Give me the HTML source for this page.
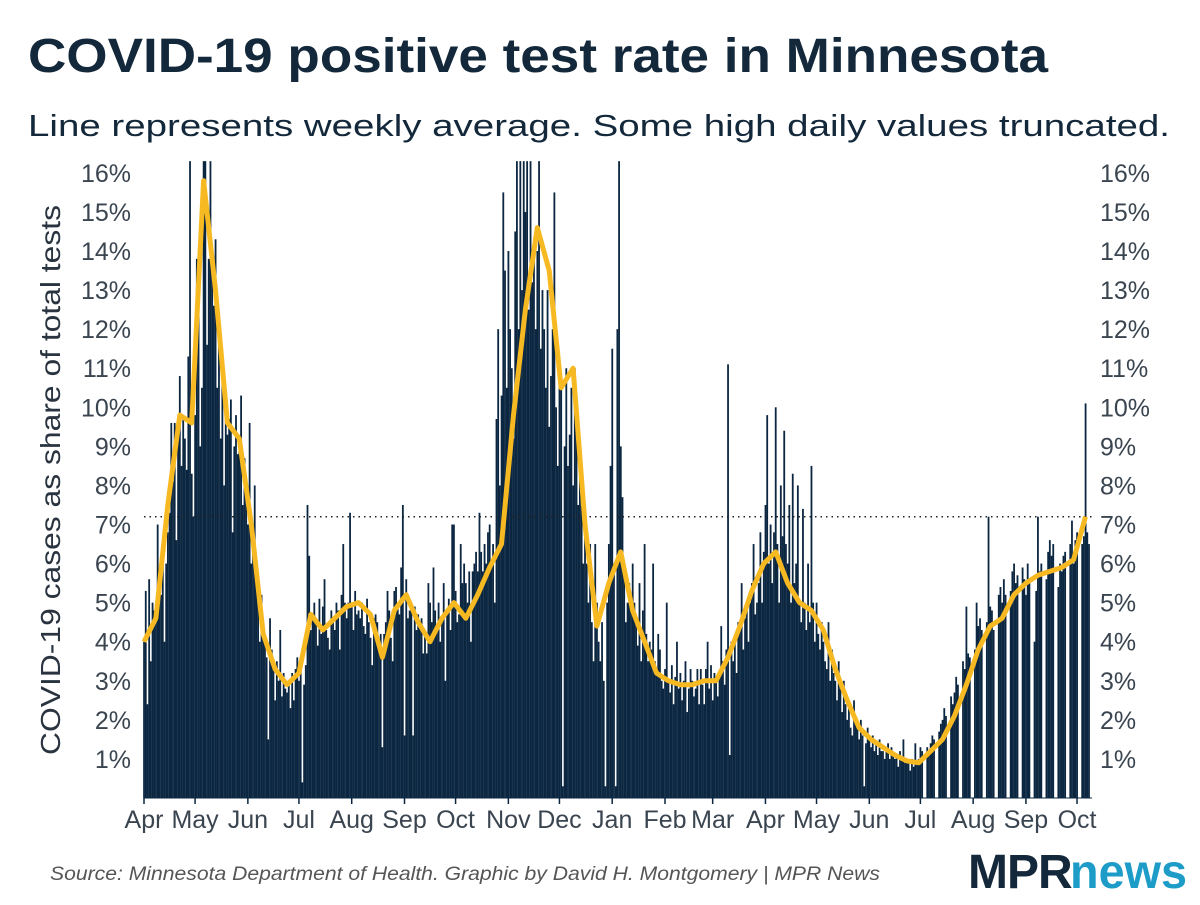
<!DOCTYPE html>
<html><head><meta charset="utf-8"><style>
body{margin:0;background:#fff;width:1200px;height:900px;overflow:hidden;font-family:"Liberation Sans",sans-serif}
</style></head><body>
<svg id="c" width="1200" height="900" xmlns="http://www.w3.org/2000/svg">
<text x="28" y="72" font-size="48" font-weight="bold" fill="#13283a" textLength="1020" lengthAdjust="spacingAndGlyphs">COVID-19 positive test rate in Minnesota</text>
<text x="28" y="136" font-size="31" fill="#13283a" textLength="1142" lengthAdjust="spacingAndGlyphs">Line represents weekly average. Some high daily values truncated.</text>
<text transform="translate(60,480) rotate(-90)" text-anchor="middle" font-size="28" fill="#2a3440" textLength="550" lengthAdjust="spacingAndGlyphs">COVID-19 cases as share of total tests</text>
<g id="bars"></g>
<g id="grid"></g>
<path id="line" fill="none" stroke="#f7b922" stroke-width="5" stroke-linejoin="round"/>
<text x="50" y="880" font-size="19" font-style="italic" fill="#555" textLength="830" lengthAdjust="spacingAndGlyphs">Source: Minnesota Department of Health. Graphic by David H. Montgomery | MPR News</text>
<g>
<text x="968" y="888" font-size="48" font-weight="bold" fill="#13283a" letter-spacing="-1">MPR</text>
<text x="1070" y="888" font-size="48" font-weight="bold" fill="#1e9cc8" textLength="117" lengthAdjust="spacingAndGlyphs">news</text>
</g>
</svg>
<script>
const monthLabels=["Apr","May","Jun","Jul","Aug","Sep","Oct","Nov","Dec","Jan","Feb","Mar","Apr","May","Jun","Jul","Aug","Sep","Oct"];
const monthStartDays=[0,30,61,91,122,153,183,214,244,275,306,334,365,395,426,456,487,518,548];
const yTicks=[1,2,3,4,5,6,7,8,9,10,11,12,13,14,15,16];
const refValue=7.2;
const daily=[
4.0,5.3,2.4,5.6,3.5,5.0,4.8, 4.7,7.0,5.5,5.2,6.2,4.0,6.0, 6.8,7.3,9.6,8.1,9.6,6.6,9.7, 10.8,8.5,9.8,9.2,8.4,11.3,16.3,
8.3,7.2,9.8,13.8,13.9,9.0,10.5, 16.3,16.3,11.6,13.8,16.3,14.0,12.6, 14.3,10.5,12.0,9.2,11.2,8.0,10.0, 9.3,9.7,10.2,6.8,9.0,9.8,8.8,
9.2,10.3,7.5,8.7,8.0,7.0,9.6, 6.0,7.0,8.0,5.8,5.0,4.0,5.2, 4.5,4.0,3.6,1.5,4.6,3.8,3.3, 2.5,3.5,3.0,4.3,2.6,3.2,2.8,
2.7,3.0,2.3,3.2,2.5,3.3,3.6, 3.0,3.4,0.4,2.9,3.4,7.5,6.2, 4.3,4.7,5.0,4.6,3.9,5.1,4.2, 4.9,5.6,4.3,4.1,3.8,4.8,4.5,
4.3,5.0,4.8,3.8,5.2,6.5,5.0, 4.6,5.0,7.3,4.9,4.3,5.3,4.7, 4.8,4.6,5.0,4.4,4.2,5.1,4.5, 4.1,3.4,4.6,4.7,4.5,4.0,4.2,
1.3,4.2,4.5,5.3,4.8,4.1,3.5, 5.3,5.4,5.0,4.7,5.9,7.5,1.6, 5.6,4.6,4.8,5.0,1.6,4.9,4.3, 4.7,4.5,4.6,3.7,4.2,3.7,5.5,
5.0,4.5,5.9,4.8,4.3,5.0,4.0, 4.6,5.5,3.0,4.8,5.1,4.3,7.0, 7.0,5.3,4.5,4.7,6.5,5.5,6.0, 5.5,5.0,5.8,4.0,5.8,6.0,6.3,
5.8,7.3,6.3,5.8,6.5,6.0,6.8, 7.0,6.0,6.5,5.0,9.7,12.0,8.0, 10.3,15.5,13.5,10.5,14.0,12.0,11.0, 9.2,14.5,16.3,12.0,16.3,13.0,16.3,
15.0,16.3,12.5,16.3,13.2,14.0,12.0, 14.0,16.3,11.5,13.0,12.0,10.5,13.0, 9.5,10.8,12.0,15.5,10.0,8.5,11.0, 10.5,0.3,9.0,11.0,8.5,9.3,10.5,
8.0,11.0,9.5,7.5,8.5,7.5,6.0, 7.5,6.0,5.0,6.5,4.5,3.5,6.5, 5.0,4.0,3.5,4.5,3.0,0.3,5.0, 6.5,8.5,11.5,6.0,0.3,12.0,16.3,
9.0,7.7,6.0,4.5,5.0,5.5,4.8, 6.0,5.0,4.5,3.9,5.5,3.5,4.8, 6.5,4.2,3.5,4.0,3.8,6.0,3.5, 3.3,4.2,3.8,3.0,2.8,3.3,5.0,
3.0,2.7,3.4,2.4,3.1,4.0,2.8, 3.2,2.5,3.0,3.5,2.2,2.8,3.3, 3.0,2.6,2.8,3.3,2.4,3.3,2.9, 2.4,3.3,4.0,2.8,3.4,2.5,3.2,
3.0,2.6,3.2,4.4,3.5,2.9,3.8, 11.1,1.1,4.0,3.5,4.1,3.2,4.5, 4.5,5.5,3.8,4.6,5.0,4.0,5.0, 5.5,6.5,4.7,5.0,5.5,6.8,5.0,
6.3,7.5,9.8,6.0,7.0,5.5,6.8, 10.0,6.5,5.0,8.0,6.7,9.4,6.5, 6.0,7.5,5.0,8.3,5.5,6.0,8.0, 5.0,4.5,7.4,5.0,4.3,6.0,4.5,
8.5,5.0,4.0,5.0,4.2,3.8,4.5, 4.0,3.5,3.3,4.5,3.0,3.8,3.2, 3.0,2.5,3.5,2.8,2.2,3.0,2.4, 2.0,2.3,1.8,1.6,2.5,2.0,1.8,
1.5,2.0,1.6,0.3,1.4,1.8,1.5, 1.3,1.6,1.2,1.4,1.1,1.5,1.2, 1.2,1.0,1.3,1.4,1.0,1.3,1.1, 1.0,1.1,0.8,1.2,1.0,1.5,0.9,
0.9,1.0,0.7,1.0,0.8,1.4,0.9, 1.0,1.3,1.2,0,0,1.3,1.2, 1.4,1.6,1.5,0,0,1.7,1.9, 2.0,2.3,2.1,0,0,2.6,2.4,
2.7,3.1,2.9,0,0,3.5,3.3, 4.9,3.7,3.6,0,0,3.8,5.0, 4.4,4.6,4.3,0,0,4.5,7.2, 4.9,4.8,4.3,0,0,5.2,5.4,
5.0,5.6,5.2,0,0,5.3,5.8, 6.0,5.5,5.7,0,0,5.9,5.6, 5.2,6.0,5.6,0,0,4.0,5.3, 7.2,5.8,6.0,0,0,5.6,6.3,
6.6,6.2,6.5,0,0,5.4,6.0, 5.8,6.2,6.3,0,0,6.5,7.1, 6.0,6.6,6.8,0,0,6.5,6.7, 10.1,6.8,6.5
];
const weeklyAvg=[4.0,4.6,7.5,9.8,9.6,15.8,13,9.6,9.2,7.0,4.2,3.3,2.9,3.2,4.7,4.3,4.6,4.9,5.0,4.7,3.6,4.8,5.2,4.5,4.0,4.6,5.0,4.6,5.2,5.9,6.5,9.8,12.5,14.6,13.5,10.5,11.0,7.0,4.4,5.5,6.3,4.8,4.0,3.2,3.0,2.9,2.9,3.0,3.0,3.6,4.4,5.3,6.0,6.3,5.5,5.0,4.8,4.3,3.3,2.5,1.8,1.5,1.3,1.1,0.95,0.9,1.2,1.5,2.1,2.9,3.8,4.4,4.6,5.2,5.5,5.7,5.8,5.9,6.1,7.2];

const NS="http://www.w3.org/2000/svg";
const x=d=>144+d*1.7026;
const y=v=>798-Math.min(v,16.3)*39.07;
function mk(tag,attrs,parent){const e=document.createElementNS(NS,tag);for(const k in attrs)e.setAttribute(k,attrs[k]);parent.appendChild(e);return e;}
const bars=document.getElementById('bars'),grid=document.getElementById('grid');
daily.forEach((v,i)=>{if(v<=0)return;
 const r=mk('rect',{x:x(i)-0.85,y:y(v),width:1.8,height:798-y(v),fill:'#0b2640'},bars);
 
 
});
const ref=mk('line',{x1:144,x2:1092,y1:y(refValue),y2:y(refValue),stroke:'#222','stroke-width':1.5,'stroke-dasharray':'1.5 4'},grid);


yTicks.forEach(t=>{
 const a=mk('text',{x:131,y:y(t)+9,'text-anchor':'end','font-size':25,fill:'#3a4550'},grid);a.textContent=t+'%';
 
 
 const b=mk('text',{x:1100,y:y(t)+9,'font-size':25,fill:'#3a4550'},grid);b.textContent=t+'%';
 
 
});
monthLabels.forEach((m,i)=>{
 const d=monthStartDays[i];
 const tk=mk('line',{x1:x(d),x2:x(d),y1:798,y2:804,stroke:'#0b2640','stroke-width':1.5},grid);
 
 
 const t=mk('text',{x:x(d),y:828,'text-anchor':'middle','font-size':25,fill:'#3a4550'},grid);t.textContent=m;
 
 
});
const axis=mk('line',{x1:144,x2:1092,y1:798,y2:798,stroke:'#0b2640','stroke-width':1},grid);


document.getElementById('line').setAttribute('d',weeklyAvg.map((v,k)=>(k?'L':'M')+x(k*7).toFixed(1)+' '+y(v).toFixed(1)).join(' '));
</script>
</body></html>
